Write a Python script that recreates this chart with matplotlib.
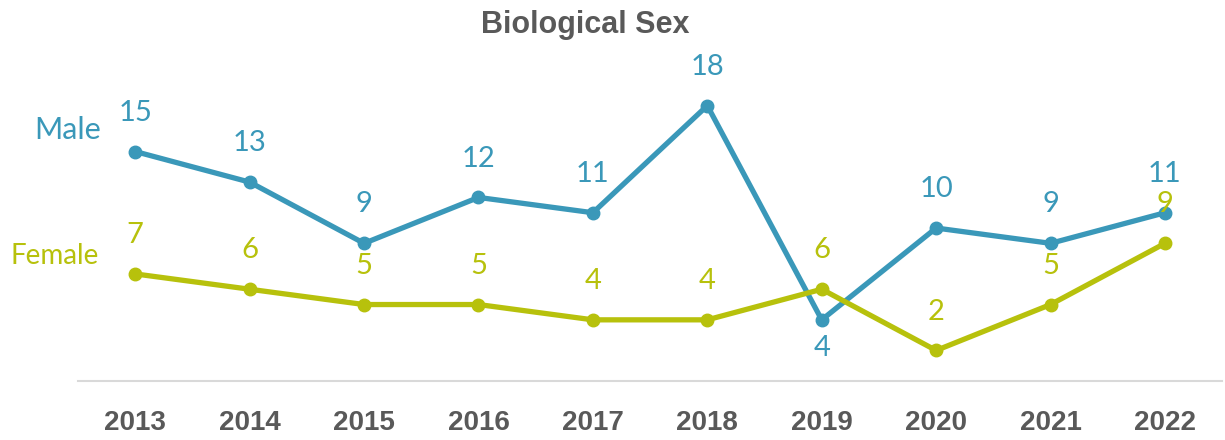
import matplotlib
matplotlib.use("Agg")
import matplotlib.pyplot as plt
from matplotlib import font_manager

years = ["2013", "2014", "2015", "2016", "2017", "2018", "2019", "2020", "2021", "2022"]
male = [15, 13, 9, 12, 11, 18, 4, 10, 9, 11]
female = [7, 6, 5, 5, 4, 4, 6, 2, 5, 9]

male_color = "#3A98B9"
female_color = "#B7C10C"
grey = "#595959"

names = {f.name for f in font_manager.fontManager.ttflist}
bold_font = "Liberation Sans" if "Liberation Sans" in names else "DejaVu Sans"
label_font = "Lato" if "Lato" in names else "DejaVu Sans"

fig = plt.figure(figsize=(12.25, 4.4), dpi=100)
ax = fig.add_axes([0.0637, 0.134, 0.934, 0.6955])

x = list(range(len(years)))
ax.plot(x, male, color=male_color, lw=3.8, marker="o", ms=9, solid_capstyle="round")
ax.plot(x, female, color=female_color, lw=3.8, marker="o", ms=9, solid_capstyle="round")

# data labels (male 2019 goes below its point)
for i, v in enumerate(male):
    dy = -20 if i == 6 else 28
    ax.annotate(str(v), (i, v), xytext=(0, dy), textcoords="offset points",
                ha="center", va="center", fontsize=21, color=male_color,
                family=label_font)
for i, v in enumerate(female):
    ax.annotate(str(v), (i, v), xytext=(0, 28), textcoords="offset points",
                ha="center", va="center", fontsize=21, color=female_color,
                family=label_font)

ax.set_xlim(-0.5, len(years) - 0.5)
ax.set_ylim(0, 20)
ax.set_xticks(x)
ax.set_xticklabels(years, fontsize=20, fontweight="bold", color=grey, family=bold_font)
ax.tick_params(axis="x", length=0, pad=21)
ax.set_yticks([])
for s in ["top", "right", "left"]:
    ax.spines[s].set_visible(False)
ax.spines["bottom"].set_color("#D9D9D9")
ax.spines["bottom"].set_linewidth(1.5)

fig.text(0.055, 0.705, "Male", fontsize=22, color=male_color, ha="center", va="center",
         family=label_font)
fig.text(0.045, 0.418, "Female", fontsize=20, color=female_color, ha="center", va="center",
         family=label_font)
fig.text(0.478, 0.943, "Biological Sex", fontsize=22, fontweight="bold", color=grey,
         ha="center", va="center", family=bold_font)

fig.savefig("out.png", dpi=100)
